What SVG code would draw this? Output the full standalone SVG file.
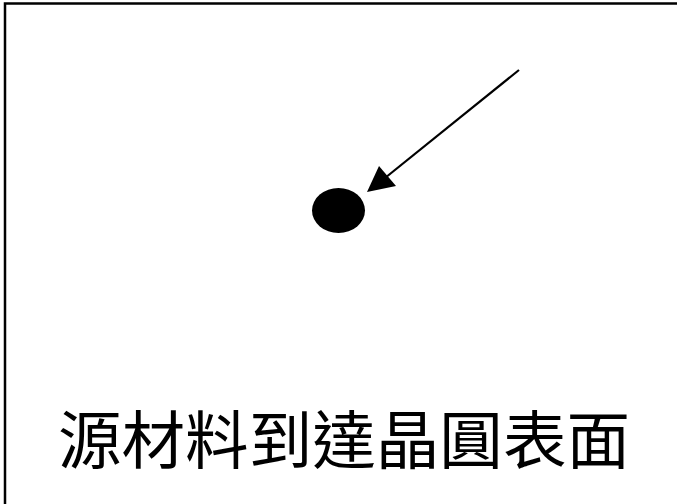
<svg xmlns="http://www.w3.org/2000/svg" width="677" height="504" viewBox="0 0 677 504">
<defs>
<style>
.frame{fill:none;stroke:#000;stroke-width:2.5}
.lbl{font-family:"Noto Sans CJK TC","Noto Sans CJK SC",sans-serif;font-size:63px;fill:#000}
</style>
</defs>
<rect width="677" height="504" fill="#fff"/>
<rect class="frame" x="5" y="3.5" width="700" height="530"/>
<g id="particle"><ellipse cx="338.5" cy="210.5" rx="26.5" ry="22.5" fill="#000"/></g>
<g id="connectors">
<line x1="519" y1="70" x2="385" y2="178" stroke="#000" stroke-width="2.2"/>
<path d="M367,192 L379,166 L396,186 z" fill="#000"/>
</g>
<g id="caption"><text class="lbl" x="58" y="463" textLength="572" lengthAdjust="spacingAndGlyphs">源材料到達晶圓表面</text></g>
</svg>
